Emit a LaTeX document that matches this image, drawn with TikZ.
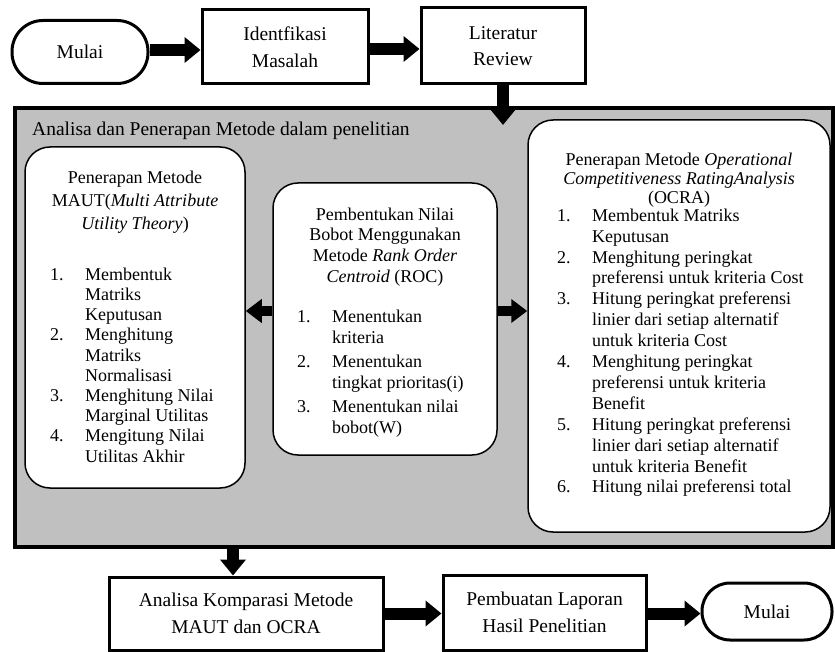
\documentclass[tikz,border=0pt]{standalone}
\usepackage{fontspec}
\setmainfont{Liberation Serif}
\usetikzlibrary{arrows.meta}
\definecolor{panelgray}{RGB}{192,192,192}
\begin{document}
\begin{tikzpicture}[x=1pt,y=-1pt,
  flowbox/.style={draw, line width=3pt, fill=white, inner sep=0pt, align=center, font=\fontsize{19.5}{26.5}\selectfont},
  term/.style={flowbox},
  panel/.style={draw, line width=4pt, fill=panelgray, inner sep=0pt},
  inbox/.style={draw, line width=1.5pt, fill=white, rounded corners=25pt, inner sep=0pt},
  bigarrow/.style={line width=12pt, -{Triangle[width=25pt,length=16pt]}},
  sidearrow/.style={line width=10pt, -{Triangle[width=23pt,length=16pt]}},
  hdr/.style={inner sep=0pt, anchor=north},
  lst/.style={inner sep=0pt, anchor=north west}
]
\useasboundingbox (0,0) rectangle (835,652);

% top row
\node[term, rounded corners=31pt, minimum width=136pt, minimum height=63pt] (m1) at (80,52) {Mulai};
\node[flowbox, minimum width=166pt, minimum height=74pt] (id) at (285,47) {Identfikasi\\Masalah};
\node[flowbox, minimum width=164pt, minimum height=76pt] (lit) at (503,46) {Literatur\\Review};

% panel
\node[panel, minimum width=818pt, minimum height=439pt] (panel) at (424,327.5) {};
\node[inner sep=0pt, anchor=base west, font=\fontsize{19.5}{23}\selectfont] (title) at (32,136) {Analisa dan Penerapan Metode dalam penelitian};

\node[inbox, minimum width=220pt, minimum height=341pt] (maut) at (135,317.5) {};
\node[inbox, minimum width=224pt, minimum height=272pt] (roc) at (385,319) {};
\node[inbox, minimum width=302pt, minimum height=412pt] (ocra) at (679,326) {};

% MAUT text
\node[hdr, font=\fontsize{18}{23}\selectfont] (mauth) at (135,166.9) {\begin{tabular}{@{}c@{}}Penerapan Metode\\MAUT(\textit{Multi Attribute}\\\textit{Utility Theory})\end{tabular}};
\node[lst, font=\fontsize{18}{20.2}\selectfont] (mautl) at (50,265.9) {\begin{tabular}{@{}p{35pt}@{}l@{}}
1. & Membentuk\\
 & Matriks\\
 & Keputusan\\
2. & Menghitung\\
 & Matriks\\
 & Normalisasi\\
3. & Menghitung Nilai\\
 & Marginal Utilitas\\
4. & Mengitung Nilai\\
 & Utilitas Akhir
\end{tabular}};

% ROC text
\node[hdr, font=\fontsize{18}{20.7}\selectfont] (roch) at (385,205.5) {\begin{tabular}{@{}c@{}}Pembentukan Nilai\\Bobot Menggunakan\\Metode \textit{Rank Order}\\\textit{Centroid} (ROC)\end{tabular}};
\node[lst, font=\fontsize{18}{21}\selectfont] (rocl) at (297,307.3) {\begin{tabular}{@{}p{35pt}@{}l@{}}
1. & Menentukan\\
 & kriteria\\[3pt]
2. & Menentukan\\
 & tingkat prioritas(i)\\[3pt]
3. & Menentukan nilai\\
 & bobot(W)
\end{tabular}};

% OCRA text
\node[hdr, font=\fontsize{18}{19}\selectfont] (ocrah) at (679,151.7) {\begin{tabular}{@{}c@{}}Penerapan Metode \textit{Operational}\\\textit{Competitiveness RatingAnalysis}\\(OCRA)\end{tabular}};
\node[lst, font=\fontsize{18}{20.9}\selectfont] (ocral) at (557,206.4) {\begin{tabular}{@{}p{35pt}@{}l@{}}
1. & Membentuk Matriks\\
 & Keputusan\\
2. & Menghitung peringkat\\
 & preferensi untuk kriteria Cost\\
3. & Hitung peringkat preferensi\\
 & linier dari setiap alternatif\\
 & untuk kriteria Cost\\
4. & Menghitung peringkat\\
 & preferensi untuk kriteria\\
 & Benefit\\
5. & Hitung peringkat preferensi\\
 & linier dari setiap alternatif\\
 & untuk kriteria Benefit\\
6. & Hitung nilai preferensi total
\end{tabular}};

% bottom row
\node[flowbox, minimum width=274pt, minimum height=73pt] (an) at (246,613.5) {Analisa Komparasi Metode\\MAUT dan OCRA};
\node[flowbox, minimum width=203pt, minimum height=75pt] (pb) at (544.5,612.5) {Pembuatan Laporan\\Hasil Penelitian};
\node[term, rounded corners=28pt, minimum width=130pt, minimum height=57pt] (m2) at (767,611.5) {Mulai};

% helper coordinates
\coordinate (litin) at (503,125);
\coordinate (sidey) at (0,311);
\coordinate (downx) at (233,0);

% connectors
\draw[bigarrow] (m1.east |- 0,50) -- (id.west |- 0,50);
\draw[bigarrow] (id.east |- 0,49) -- (lit.west |- 0,49);
\draw[bigarrow] (lit.south) -- (litin);
\draw[sidearrow] (roc.west |- sidey) -- (maut.east |- sidey);
\draw[sidearrow] (roc.east |- sidey) -- (ocra.west |- sidey);
\draw[bigarrow] (panel.south -| downx) -- (an.north -| downx);
\draw[bigarrow] (an.east) -- (an.east -| pb.west);
\draw[bigarrow] (pb.east |- an.east) -- (m2.west |- an.east);
\end{tikzpicture}
\end{document}
